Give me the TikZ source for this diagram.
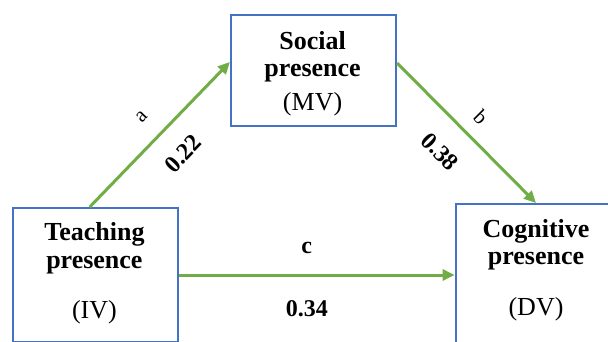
\documentclass[tikz,border=0pt]{standalone}
\usepackage{fontspec}
\setmainfont{Liberation Serif}
\usetikzlibrary{arrows.meta}
\definecolor{boxblue}{HTML}{4472C4}
\definecolor{arrgreen}{HTML}{70AD47}
\tikzset{
  box/.style={draw=boxblue, line width=2.2pt, rectangle, inner sep=0pt, anchor=north west},
  arr/.style={draw=arrgreen, line width=3pt, -{Triangle[length=12pt,width=11pt]}},
  btxt/.style={font=\fontsize{26}{26}\selectfont\bfseries, inner sep=0pt},
  rtxt/.style={font=\fontsize{26}{26}\selectfont, inner sep=0pt},
  lbl/.style={font=\fontsize{21}{21}\selectfont, inner sep=0pt},
  num/.style={font=\fontsize{24}{24}\selectfont\bfseries, inner sep=0pt}
}
\begin{document}
\begin{tikzpicture}[x=1pt,y=-1pt]
\useasboundingbox (0,0) rectangle (608,342);
% boxes
\node[box, minimum width=165pt, minimum height=111pt] (soc) at (229.9,14) {};
\node[box, minimum width=165pt, minimum height=134pt] (teach) at (11.7,207) {};
\node[box, minimum width=153pt, minimum height=150pt] (cog) at (454.6,203) {};
% texts
\node[btxt] (soc1) at (312.6,41) {Social};
\node[btxt] (soc2) at (312.6,73) {presence};
\node[rtxt] (soc3) at (312.6,104) {(MV)};
\node[btxt] (teach1) at (94.4,234) {Teaching};
\node[btxt] (teach2) at (94.4,265) {presence};
\node[rtxt] (teach3) at (94.4,312) {(IV)};
\node[btxt] (cog1) at (536,231) {Cognitive};
\node[btxt] (cog2) at (536,261) {presence};
\node[rtxt] (cog3) at (536,309) {(DV)};
% connectors
\draw[arr] ([xshift=78pt]teach.north west) -- ([yshift=-48pt]soc.north west);
\draw[arr] ([yshift=-49pt]soc.north east) -- ([xshift=81.4pt]cog.north west);
\draw[arr] ([yshift=-68pt]teach.north east) -- ([yshift=-72pt]cog.north west);
% labels
\node[lbl, rotate=46] (la) at (141.7,116.7) {a};
\node[num, rotate=46] (na) at (183,154) {0.22};
\node[lbl, rotate=-45] (lb) at (480.8,116.7) {b};
\node[num, rotate=-45] (nb) at (440,151.7) {0.38};
\node[num] (lc) at (306.8,248) {c};
\node[num] (nc) at (306.8,309) {0.34};
\end{tikzpicture}
\end{document}
